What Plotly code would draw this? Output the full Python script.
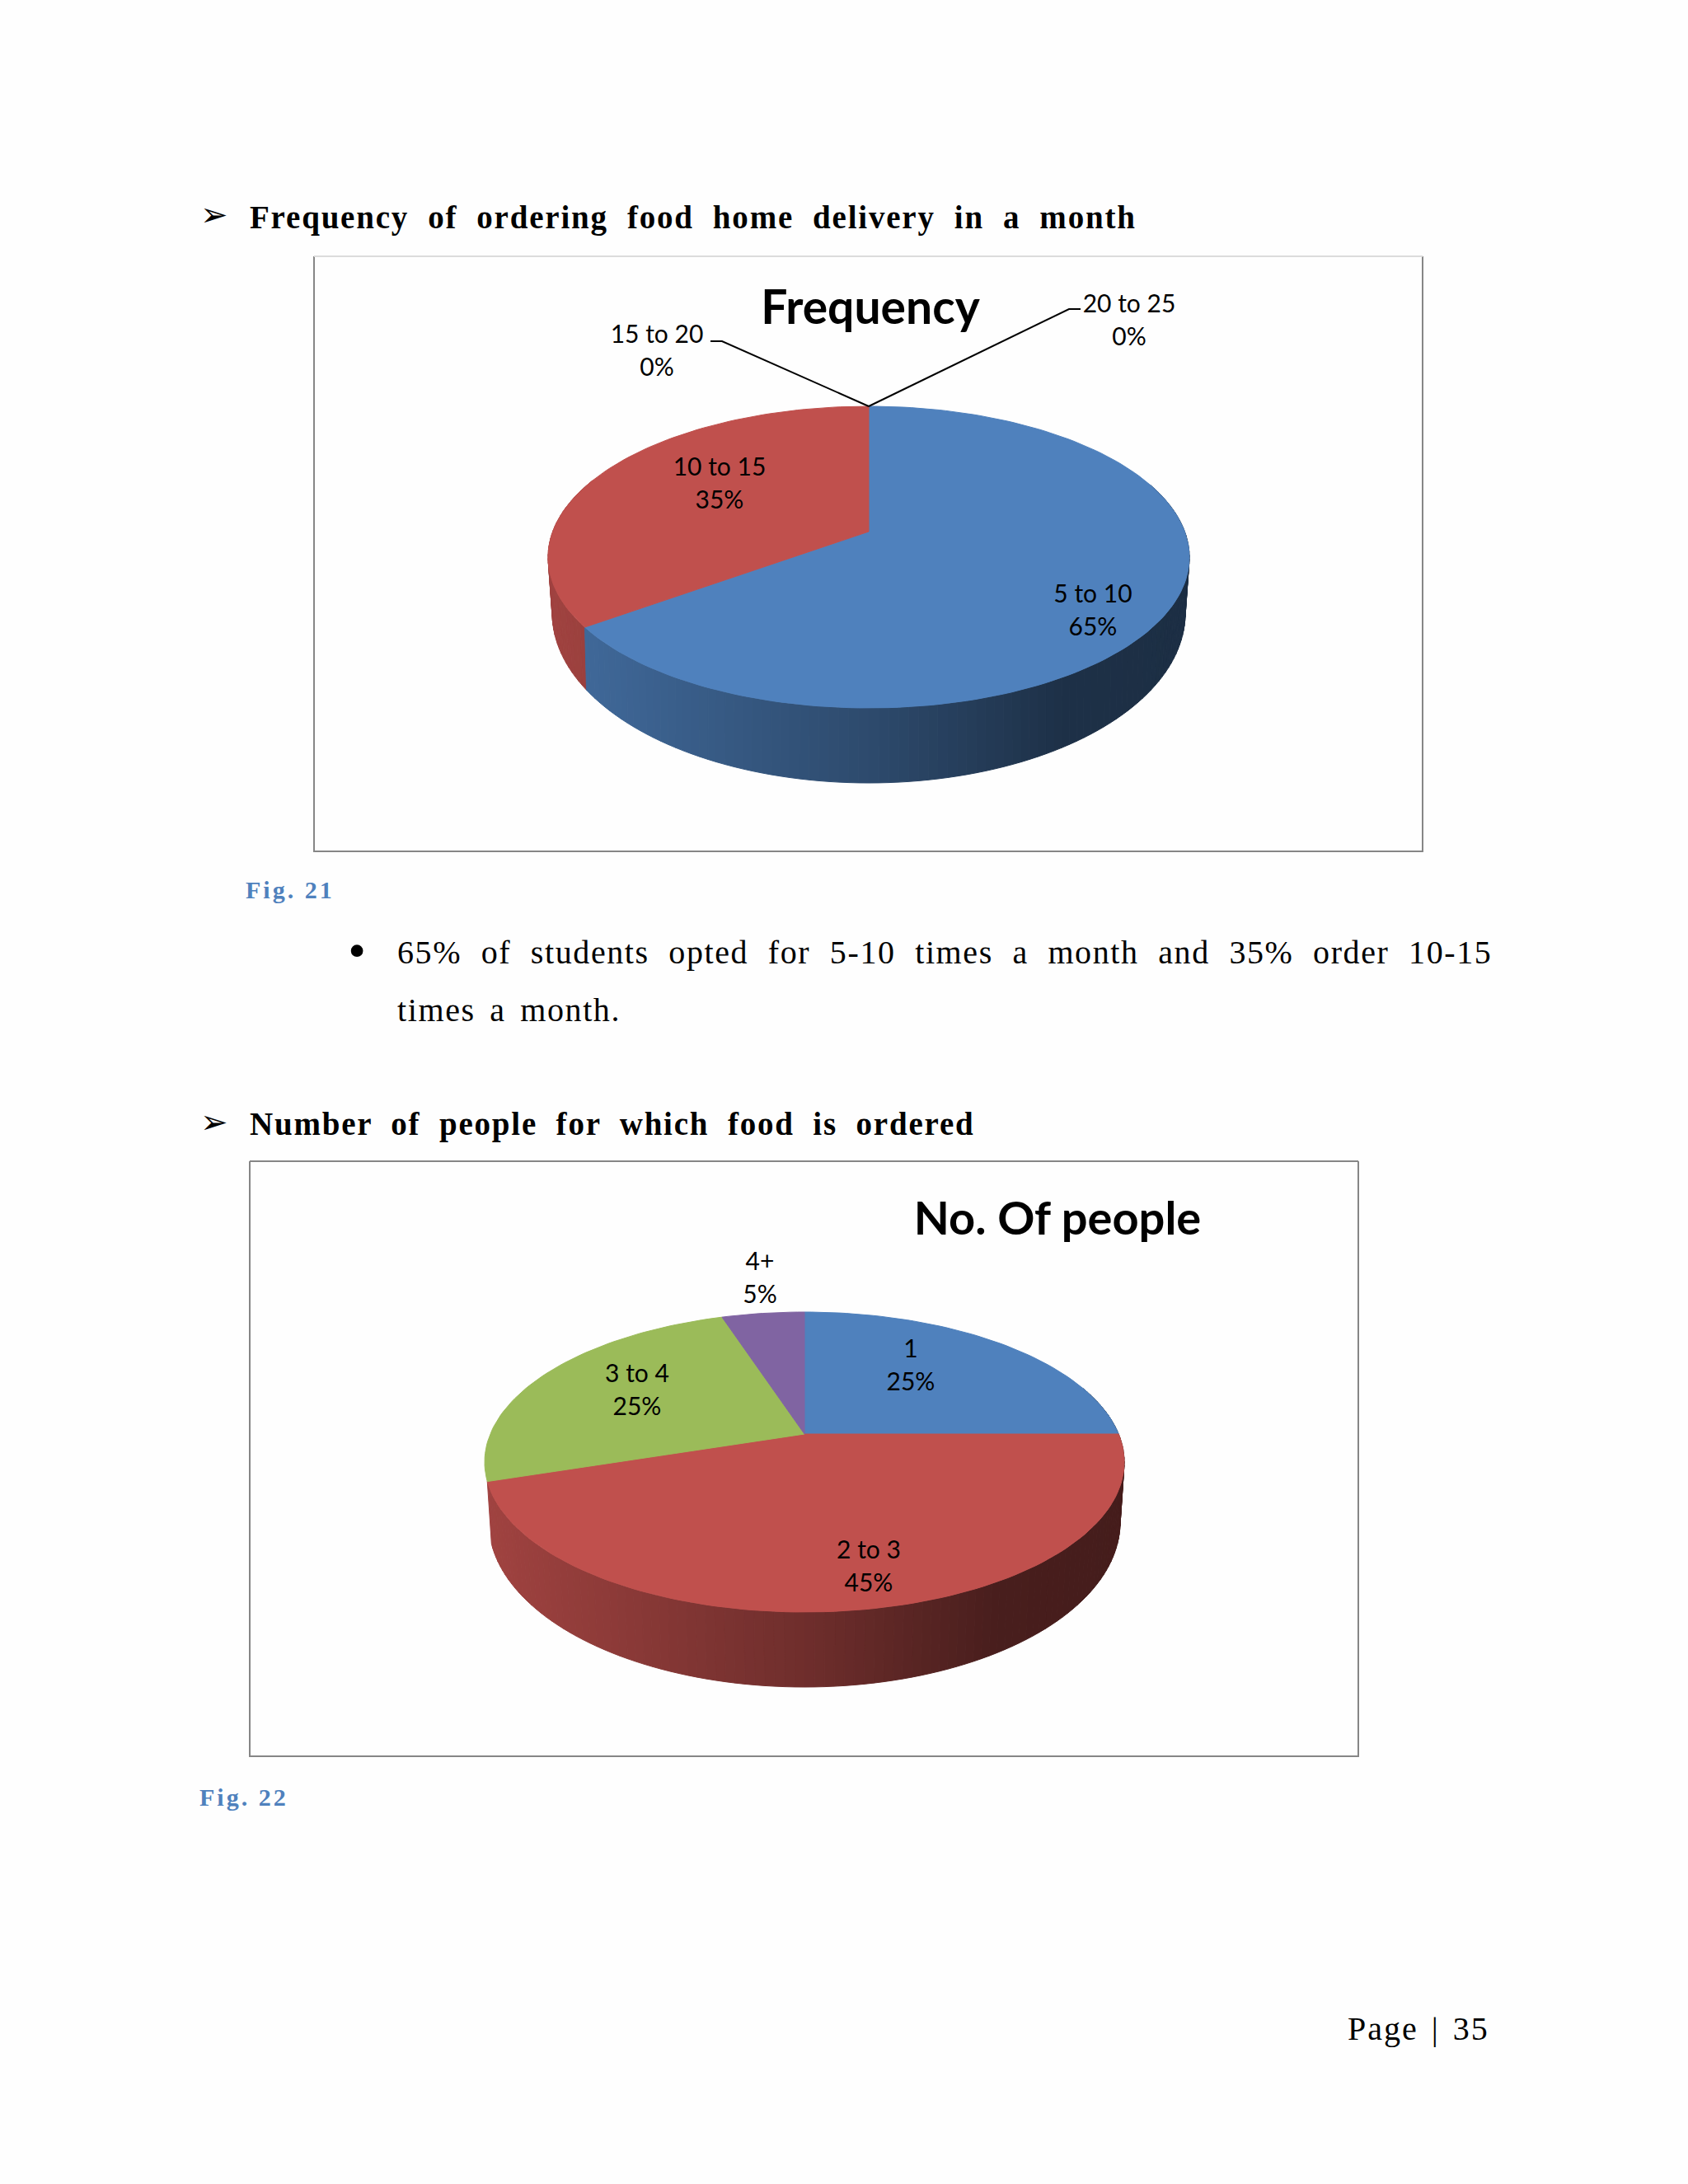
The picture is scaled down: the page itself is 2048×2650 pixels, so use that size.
import json
import math

import plotly.graph_objects as go

# chart data
freq_labels = ["5 to 10", "10 to 15", "15 to 20", "20 to 25"]
freq_values = [65, 35, 0, 0]
freq_colors = ["#4F81BD", "#C0504D", "#9BBB59", "#8064A2"]

people_labels = ["1", "2 to 3", "3 to 4", "4+"]
people_values = [25, 45, 25, 5]
people_colors = ["#4F81BD", "#C0504D", "#9BBB59", "#8064A2"]

# page geometry, in page pixels
PAGE_W = 2048
PAGE_H = 2650
freq_top = dict(cx=1054, top=493, bottom=859, apex=645, rx=389)
freq_base = dict(cx=1054, top=538, bottom=950, apex=706, rx=384)
people_top = dict(cx=976, top=1592, bottom=1956, apex=1740, rx=388)
people_base = dict(cx=976, top=1647, bottom=2047, apex=1810, rx=383)

SERIF = "Liberation Serif"
SANS = "Lato"

fig = go.Figure()


def project(theta, g):
    """clockwise degrees from the top of the pie to a page position, with perspective"""
    up = g['bottom'] - g['apex']
    down = g['apex'] - g['top']
    p = (up - down) / (up + down)
    b = down * (1 + p)
    a = g['rx'] * math.sqrt(1 - p * p)
    u = math.cos(math.radians(theta))
    v = math.sin(math.radians(theta))
    w = 1 + p * u
    return g['cx'] + a * v / w, g['apex'] - b * u / w


def shade(color, t):
    """darken a slice colour for the side wall, t is 0 at the left and 1 at the right"""
    stops = [(0, .84), (.5, .58), (.8, .38), (1, .36)]
    f = stops[-1][1]
    for (t0, f0), (t1, f1) in zip(stops, stops[1:]):
        if t0 <= t <= t1:
            f = f0 + (f1 - f0) * (t - t0) / (t1 - t0)
            break
    r, g, b = [int(color[i:i + 2], 16) for i in (1, 3, 5)]
    return "rgb(%d,%d,%d)" % (r * f, g * f, b * f)


def poly(xs, ys, color):
    fig.add_trace(go.Scatter(x=xs, y=ys, mode="lines", fill="toself", fillcolor=color,
                             line=dict(color=color, width=1), hoverinfo="skip", showlegend=False))


def pie3d(values, colors, top, base, wall_slices=None):
    """wall_slices: how many slices get a side wall, the ones at the back left have none"""
    total = sum(values)
    walls = []
    faces = []
    start = 0
    for i, (value, color) in enumerate(zip(values, colors)):
        sweep = value / total * 360
        if sweep == 0:
            continue
        steps = max(int(sweep / 1.5), 2)
        angles = [start + sweep * j / steps for j in range(steps + 1)]
        if wall_slices is None or i < wall_slices:
            for t0, t1 in zip(angles, angles[1:]):
                if math.cos(math.radians(t0)) < .35:
                    walls.append((t0, t1, color))
        faces.append((angles, color))
        start += sweep
    # back of the wall first, so the front pieces cover it
    walls.sort(key=lambda w: -math.cos(math.radians((w[0] + w[1]) / 2)))
    left = top['cx'] - top['rx']
    for t0, t1, color in walls:
        pts = [project(t0, top), project(t1, top), project(t1, base), project(t0, base)]
        mid = sum(pt[0] for pt in pts) / 4
        poly([pt[0] for pt in pts] + [pts[0][0]], [pt[1] for pt in pts] + [pts[0][1]],
             shade(color, (mid - left) / (2 * top['rx'])))
    for angles, color in faces:
        pts = [(top['cx'], top['apex'])] + [project(t, top) for t in angles]
        poly([pt[0] for pt in pts] + [top['cx']], [pt[1] for pt in pts] + [top['apex']], color)


def chart_box(x0, y0, x1, y1, top_color):
    fig.add_trace(go.Scatter(x=[x0, x0, x1, x1], y=[y0, y1, y1, y0], mode="lines",
                             line=dict(color="#868686", width=2), hoverinfo="skip", showlegend=False))
    fig.add_trace(go.Scatter(x=[x0, x1], y=[y0, y0], mode="lines",
                             line=dict(color=top_color, width=2), hoverinfo="skip", showlegend=False))


def text(x, y, s, size, family=SERIF, color="#000000", pos="middle right", weight=None):
    fig.add_trace(go.Scatter(x=[x], y=[y], mode="text", text=[s], textposition=pos,
                             textfont=dict(family=family, size=size, color=color, weight=weight),
                             hoverinfo="skip", showlegend=False))


def label(x, y, name, value, size=30):
    text(x, y, name, size, SANS, pos="middle center")
    text(x, y + 40, "%d%%" % value, size, SANS, pos="middle center")


def leader(points):
    fig.add_trace(go.Scatter(x=[pt[0] for pt in points], y=[pt[1] for pt in points], mode="lines",
                             line=dict(color="#000000", width=2), hoverinfo="skip", showlegend=False))


# first chart
chart_box(381, 311, 1726, 1033, "#dcdcdc")
pie3d(freq_values, freq_colors, freq_top, freq_base)
rim = project(0, freq_top)
leader([rim, (876, 414), (862, 414)])
leader([rim, (1297, 375), (1311, 375)])
text(1056, 379, "Frequency", 57, SANS, pos="middle center", weight=700)
label(1326, 723, freq_labels[0], freq_values[0])
label(873, 569, freq_labels[1], freq_values[1])
label(797, 408, freq_labels[2], freq_values[2])
label(1370, 371, freq_labels[3], freq_values[3])

# second chart
chart_box(303, 1409, 1648, 2131, "#868686")
pie3d(people_values, people_colors, people_top, people_base, wall_slices=2)
text(1283, 1484, "No. Of people", 56, SANS, pos="middle center", weight=700)
label(1105, 1639, people_labels[0], people_values[0])
label(1054, 1883, people_labels[1], people_values[1])
label(773, 1669, people_labels[2], people_values[2])
label(922, 1533, people_labels[3], people_values[3])

# page text
heading1 = "Frequency of ordering food home delivery in a month"
heading2 = "Number of people for which food is ordered"
body1 = "65% of students opted for 5-10 times a month and 35% order 10-15"
body2 = "times a month."
text(243, 264, "➢", 40, "DejaVu Sans")
text(303, 267, heading1, 39, weight=700)
text(298, 1082, "Fig. 21", 30, color="#4F81BD", weight=700)
text(433, 1158, "•", 62, pos="middle center")
text(482, 1159, body1, 40)
text(482, 1229, body2, 40)
text(243, 1365, "➢", 40, "DejaVu Sans")
text(303, 1367, heading2, 39, weight=700)
text(242, 2183, "Fig. 22", 30, color="#4F81BD", weight=700)
text(1635, 2465, "Page | 35", 40)

fig.update_layout(
    width=PAGE_W,
    height=PAGE_H,
    margin=dict(l=0, r=0, t=0, b=0),
    paper_bgcolor="#fefefe",
    plot_bgcolor="#fefefe",
    showlegend=False,
    xaxis=dict(range=[0, PAGE_W], visible=False, fixedrange=True),
    yaxis=dict(range=[PAGE_H, 0], visible=False, fixedrange=True),
)

# the scanned page is typeset with wide tracking, plotly has no font option for it
spacing = {
    heading1: [1.8, 11.5],
    heading2: [1.8, 11],
    body1: [1.6, 12],
    body2: [1.6, 6],
    "Fig. 21": [3, 0],
    "Fig. 22": [3, 0],
    "Page | 35": [2, 4],
}
post_script = """
document.body.style.margin = '0';
var spacing = %s;
document.querySelectorAll('.textpoint text').forEach(function (t) {
    var s = spacing[t.textContent];
    if (s) { t.style.letterSpacing = s[0] + 'px'; t.style.wordSpacing = s[1] + 'px'; }
});
""" % json.dumps(spacing)

fig.write_html("out.html", post_script=post_script, config=dict(displayModeBar=False))
